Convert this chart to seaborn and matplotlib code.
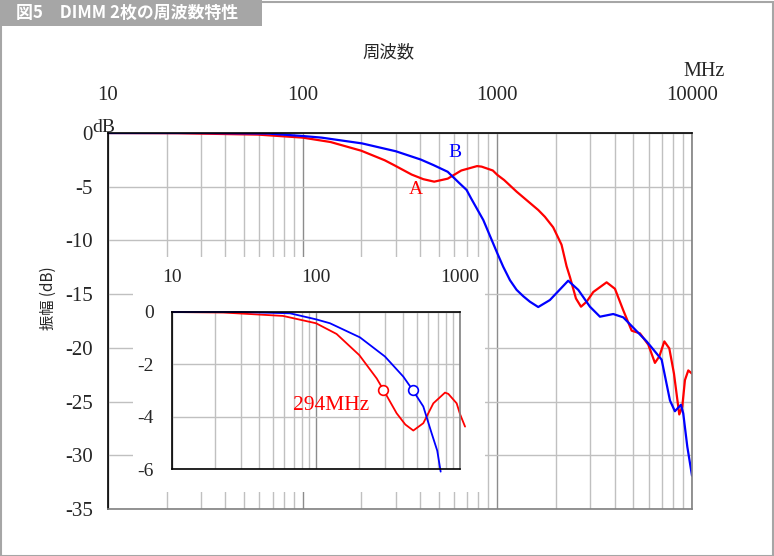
import matplotlib
matplotlib.use("Agg")
import matplotlib.pyplot as plt
import seaborn as sns
from matplotlib.patches import Rectangle

# curve A (red) and B (blue): frequency in MHz, amplitude in dB
freq_a = [10, 22.7, 59, 100, 139, 200, 264, 294, 363, 417, 474, 556, 653, 787, 830,
          948, 1000, 1084, 1256, 1623, 1755, 1936, 2137, 2268, 2360, 2534, 2690, 2877,
          3111, 3642, 4019, 4434, 4898, 5404, 5962, 6450, 6790, 7210, 7645, 8080, 8600,
          8910, 9200, 9570, 10000]
db_a = [0, -0.02, -0.15, -0.43, -0.84, -1.65, -2.54, -2.98, -3.87, -4.3, -4.53, -4.25,
        -3.49, -3.08, -3.13, -3.49, -3.9, -4.38, -5.46, -7.17, -7.8, -8.78, -10.4, -12.4,
        -13.4, -15.4, -16.17, -15.7, -14.8, -13.9, -14.5, -16.5, -18.4, -18.65, -19.7,
        -21.4, -20.8, -19.4, -20.05, -22.4, -26.2, -25.5, -23.0, -22.1, -22.4]

freq_b = [10, 30, 66, 100, 125, 202, 301, 404, 469, 556, 635, 695, 734, 847, 1000, 1072,
          1161, 1256, 1360, 1469, 1622, 1862, 2312, 2604, 2991, 3367, 3939, 4434, 5848,
          6984, 7706, 8170, 8770, 9016, 9460, 10000]
db_b = [0, 0, -0.05, -0.28, -0.43, -0.97, -1.7, -2.47, -2.98, -3.61, -4.63, -5.3, -6.1,
        -8.1, -11.2, -12.45, -13.7, -14.6, -15.2, -15.7, -16.2, -15.55, -13.75, -14.6,
        -16.17, -17.1, -16.85, -17.16, -19.4, -21.1, -24.9, -25.9, -25.3, -26.1, -29.2,
        -31.9]

# -3 dB points marked in the inset
mark_freq = [294, 469]
mark_db = [-2.98, -2.98]
mark_colors = ["red", "blue"]

main_xticks = [10, 100, 1000, 10000]
main_yticks = [0, -5, -10, -15, -20, -25, -30, -35]
inset_xticks = [10, 100, 1000]
inset_yticks = [0, -2, -4, -6]

W, H = 774, 556
sns.set_style("white")
plt.rcParams['font.family'] = ['Liberation Serif', 'Noto Sans CJK JP', 'DejaVu Sans']
cjk = ['Noto Sans CJK JP', 'DejaVu Sans']

fig = plt.figure(figsize=(W / 100, H / 100), dpi=100)


def box(l, t, r, b):
    return [l / W, 1 - b / H, (r - l) / W, (b - t) / H]


def px(x, y):
    return x / W, 1 - y / H


def minor_list(lo, hi):
    out = []
    d = lo
    while d < hi:
        out += [d * k for k in range(2, 10)]
        d *= 10
    return out


def style_axes(ax, xt, yt, lo, hi, xpad, ypad, fs):
    ax.set_xscale('log')
    ax.set_xlim(lo, hi)
    ax.set_ylim(min(yt), 0)
    ax.xaxis.tick_top()
    ax.set_xticks(xt)
    ax.set_xticklabels([str(v) for v in xt])
    ax.set_xticks(minor_list(lo, hi), minor=True)
    ax.set_yticks(yt)
    ax.set_yticklabels([str(v) for v in yt])
    ax.tick_params(axis='x', which='both', length=0, pad=xpad, labelsize=fs)
    ax.tick_params(axis='y', length=0, pad=ypad, labelsize=fs)
    ax.grid(True, which='minor', axis='x', color='#c0c0c0', lw=1)
    ax.grid(True, which='major', axis='x', color='#8c8c8c', lw=1)
    ax.grid(True, which='major', axis='y', color='#c0c0c0', lw=1)
    ax.set_xlabel('')
    ax.set_ylabel('')
    for s in ['top', 'left']:
        ax.spines[s].set_color('black')
    for s in ['right', 'bottom']:
        ax.spines[s].set_color('#808080')
    for s in ax.spines.values():
        s.set_linewidth(1.2)


# main chart
ax = fig.add_axes(box(108, 133, 692, 509))
ax.set_zorder(1)
sns.lineplot(x=freq_a, y=db_a, ax=ax, color='red', lw=1.6, sort=False, estimator=None)
sns.lineplot(x=freq_b, y=db_b, ax=ax, color='blue', lw=1.6, sort=False, estimator=None)
style_axes(ax, main_xticks, main_yticks, 10, 10000, 20, 11, 15)

fig.text(*px(416, 190), 'A', color='red', fontsize=14, ha='center', va='center', zorder=2)
fig.text(*px(455, 152), 'B', color='blue', fontsize=14, ha='center', va='center', zorder=2)

# white backing behind the inset
fig.patches.append(Rectangle(px(133, 492), (485 - 133) / W, (492 - 257) / H,
                             transform=fig.transFigure, facecolor='white',
                             edgecolor='none', zorder=2))

# inset
ins = fig.add_axes(box(172, 312, 460, 469))
ins.set_zorder(3)
sns.lineplot(x=freq_a, y=db_a, ax=ins, color='red', lw=1.3, sort=False, estimator=None)
sns.lineplot(x=freq_b, y=db_b, ax=ins, color='blue', lw=1.3, sort=False, estimator=None)
style_axes(ins, inset_xticks, inset_yticks, 10, 1000, 19, 13, 14)
ins.spines['bottom'].set_color('black')
for ln in ins.lines:
    ln.set_clip_on(False)
    x, y = ln.get_data()
    keep = [i for i in range(len(x)) if x[i] <= 1090 and y[i] >= -6.2]
    ln.set_data([x[i] for i in keep], [y[i] for i in keep])
for f, d, c in zip(mark_freq, mark_db, mark_colors):
    ins.plot(f, d, 'o', ms=7, mfc='white', mec=c, mew=1.2, zorder=5)
fig.text(*px(331, 405), '294MHz', color='red', fontsize=15.5,
         ha='center', va='center', zorder=6)

# labels outside the axes
fig.text(*px(388, 52), '周波数', family=cjk, fontsize=12.5, ha='center', va='center')
fig.text(*px(725, 71), 'MHz', fontsize=14.5, ha='right', va='center')
fig.text(*px(92, 132), 'dB', fontsize=14, ha='left', va='baseline', zorder=2)
fig.text(*px(48, 298), '振幅 (dB)', family=cjk, fontsize=11, rotation=90,
         ha='center', va='center')

# frame and title band
fig.patches.append(Rectangle(px(0.5, H - 0.5), (W - 2) / W, (H - 2) / H,
                             transform=fig.transFigure, fill=False,
                             edgecolor='#a6a6a6', lw=1.5, zorder=0))
fig.patches.append(Rectangle(px(0, 26), 262 / W, 26 / H, transform=fig.transFigure,
                             facecolor='#a6a6a6', edgecolor='none', zorder=4))
fig.text(*px(16, 13), '図5　DIMM 2枚の周波数特性', family=cjk, fontsize=12.2,
         fontweight='bold', color='white', ha='left', va='center', zorder=5)

fig.savefig('out.png', dpi=100)
